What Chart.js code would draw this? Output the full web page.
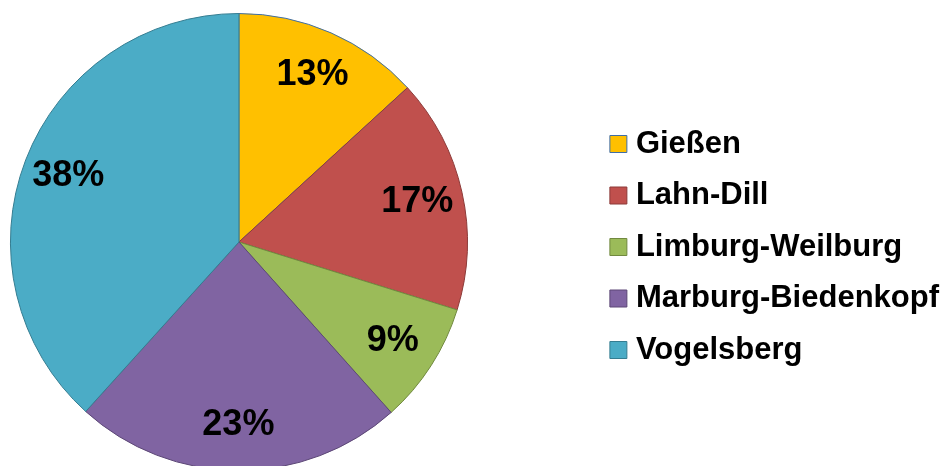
<!DOCTYPE html>
<html>
<head>
<meta charset="utf-8">
<script src="https://cdn.jsdelivr.net/npm/chart.js@4"></script>
<style>
  html, body { margin: 0; padding: 0; background: #fff; overflow: hidden; }
  #wrap { width: 952px; height: 466px; overflow: hidden; position: relative; }
  #c { position: absolute; left: -118px; top: 0; }
</style>
</head>
<body>
<div id="wrap"><canvas id="c" width="1070" height="474"></canvas></div>
<script>
const categories = ['Gießen', 'Lahn-Dill', 'Limburg-Weilburg', 'Marburg-Biedenkopf', 'Vogelsberg'];
const shares = [13.2, 16.6, 8.6, 23.3, 38.3];
const fillColors = ['#FFC000', '#C0504D', '#9BBB59', '#8064A2', '#4BACC6'];
const edgeColors = ['#3F6EA6', '#8C3A38', '#71893F', '#5C4776', '#357D91'];

const FONT = '"Liberation Sans", Arial, sans-serif';

const pctLabels = {
  id: 'pctLabels',
  afterDatasetsDraw(chart) {
    const meta = chart.getDatasetMeta(0);
    const data = chart.data.datasets[0].data;
    const total = data.reduce((a, b) => a + b, 0);
    const ctx = chart.ctx;
    ctx.save();
    ctx.font = 'bold 36px ' + FONT;
    ctx.fillStyle = '#000';
    ctx.textAlign = 'center';
    ctx.textBaseline = 'middle';
    meta.data.forEach((arc, i) => {
      const p = arc.getProps(['x', 'y', 'startAngle', 'endAngle', 'outerRadius'], true);
      const mid = (p.startAngle + p.endAngle) / 2;
      const r = p.outerRadius * 0.8;
      ctx.fillText(Math.round(data[i] / total * 100) + '%', p.x + Math.cos(mid) * r, p.y + Math.sin(mid) * r);
    });
    ctx.restore();
  }
};

new Chart(document.getElementById('c'), {
  type: 'pie',
  data: {
    labels: categories,
    datasets: [{
      data: shares,
      backgroundColor: fillColors,
      borderColor: edgeColors,
      borderWidth: 1
    }]
  },
  options: {
    responsive: false,
    animation: false,
    devicePixelRatio: 1,
    layout: { padding: { left: 0, right: 3, top: 13, bottom: 3 } },
    plugins: {
      tooltip: { enabled: false },
      legend: {
        position: 'right',
        align: 'center',
        title: { display: true, text: '', padding: 0, font: { size: 8, lineHeight: 1.25 } },
        labels: {
          usePointStyle: true,
          pointStyle: 'rect',
          boxWidth: 4,
          boxHeight: 17,
          padding: 20.5,
          color: '#000',
          font: { family: FONT, size: 31, weight: 'bold' }
        }
      }
    }
  },
  plugins: [pctLabels]
});
</script>
</body>
</html>
